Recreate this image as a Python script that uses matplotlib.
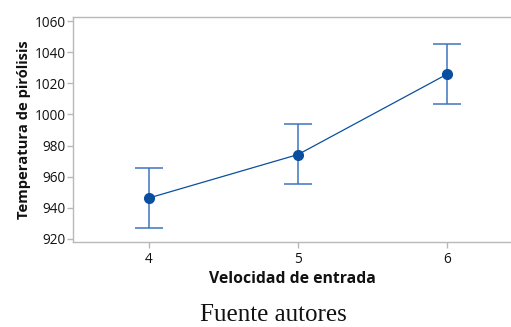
import matplotlib.pyplot as plt
import numpy as np

# data
velocidad = [4, 5, 6]
temperatura = [946.3, 974.2, 1025.8]
lower = [926.8, 955.0, 1006.5]
upper = [965.3, 993.6, 1045.5]

yticks = [920, 940, 960, 980, 1000, 1020, 1040, 1060]

plt.rcParams['font.family'] = ['Open Sans', 'DejaVu Sans']

blue = '#0a4f9f'
ebar = '#3c74bd'
gray = '#b8b8b8'

fig = plt.figure(figsize=(5.11, 3.27), dpi=100)
ax = fig.add_axes([73/511., 1 - 242/327., 438/511., 225/327.])

t = np.array(temperatura)
yerr = [t - np.array(lower), np.array(upper) - t]
ax.errorbar(velocidad, temperatura, yerr=yerr, fmt='none', ecolor=ebar,
            elinewidth=1.1, capsize=10, capthick=1.1, zorder=2)
ax.plot(velocidad, temperatura, color=blue, lw=0.9, marker='o',
        markersize=7, zorder=3)

ax.set_xlim(3.49, 6.43)
ax.set_ylim(918, 1062.6)
ax.set_xticks(velocidad)
ax.set_yticks(yticks)

for s in ['left', 'bottom', 'top']:
    ax.spines[s].set_color(gray)
    ax.spines[s].set_linewidth(1.0)
ax.spines['right'].set_visible(False)
ax.tick_params(axis='both', colors=gray, length=4, width=1.0,
               labelcolor='#111111', labelsize=9.8)
ax.tick_params(axis='x', pad=3)
ax.tick_params(axis='y', pad=1.5)

ax.set_xlabel('Velocidad de entrada', fontsize=11.3, fontweight='bold',
              color='#111111', labelpad=3)
ax.set_ylabel('Temperatura de pirólisis', fontsize=10.6, fontweight='bold',
              color='#111111', labelpad=2)

fig.text(273/511., 1 - 315/327., 'Fuente autores', family='Liberation Serif',
         fontsize=18, ha='center', va='center', color='#111111')

plt.savefig('out.png', dpi=100)
